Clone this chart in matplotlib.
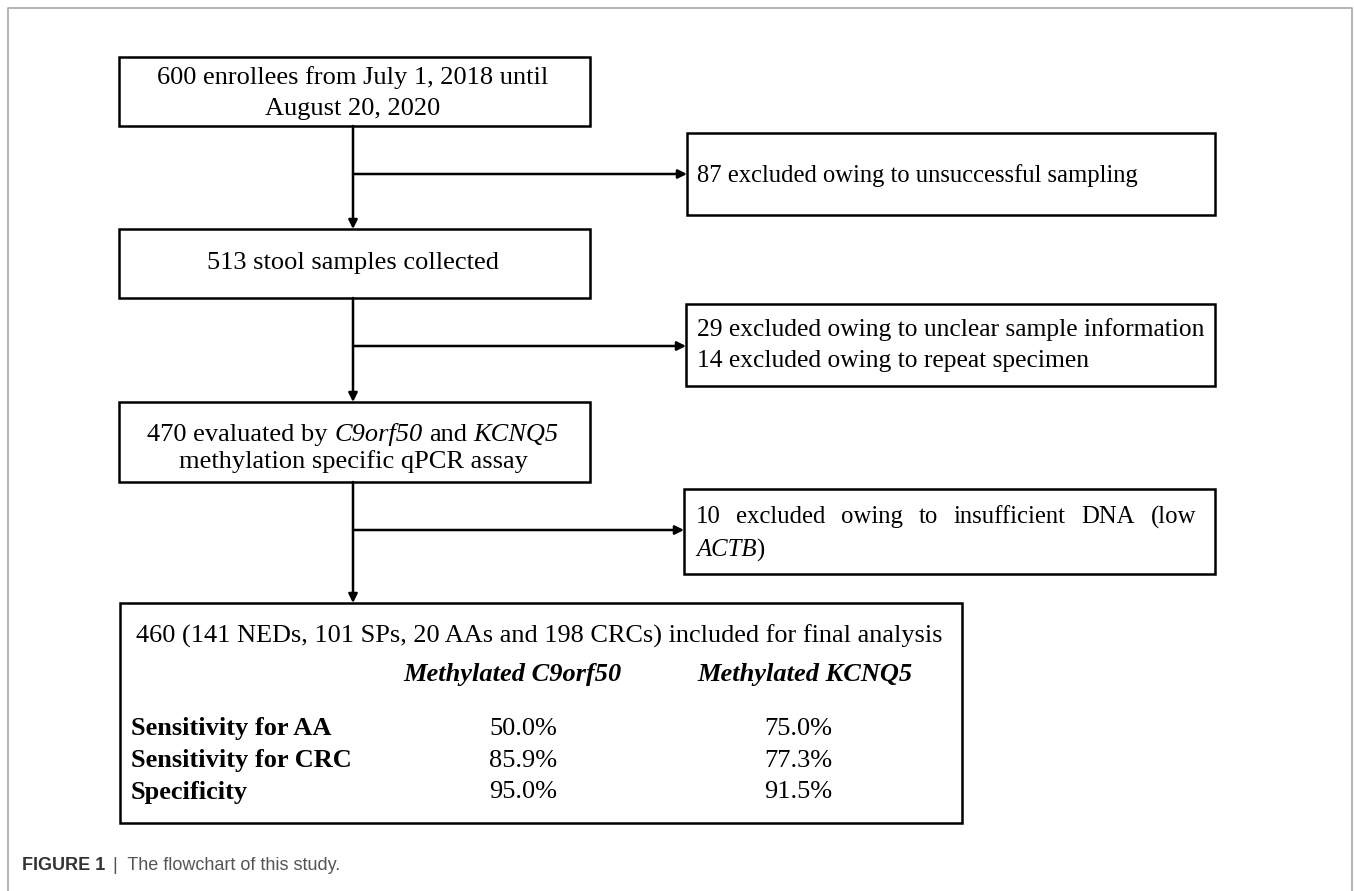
import matplotlib
matplotlib.use("Agg")
import matplotlib.pyplot as plt
from matplotlib.patches import Rectangle

plt.rcParams['font.family'] = ['Liberation Serif', 'DejaVu Serif']

# ---- content ----
box1_lines = ["600 enrollees from July 1, 2018 until", "August 20, 2020"]
box2_lines = ["513 stool samples collected"]
# mixed style line: (text, italic)
box3_line1 = [("470 evaluated by", False), ("C9orf50", True), ("and", False), ("KCNQ5", True)]
box3_line2 = "methylation specific qPCR assay"
excl1_lines = ["87 excluded owing to unsuccessful sampling"]
excl2_lines = ["29 excluded owing to unclear sample information",
               "14 excluded owing to repeat specimen"]
excl3_line1 = "10 excluded owing to insufficient DNA (low"
excl3_line2 = [("ACTB", True), (")", False)]
final_title = "460 (141 NEDs, 101 SPs, 20 AAs and 198 CRCs) included for final analysis"
markers = ["Methylated C9orf50", "Methylated KCNQ5"]
metrics = ["Sensitivity for AA", "Sensitivity for CRC", "Specificity"]
c9orf50_values = [50.0, 85.9, 95.0]
kcnq5_values = [75.0, 77.3, 91.5]

W, H = 1354, 891
fig = plt.figure(figsize=(W / 100, H / 100), dpi=100)
ax = fig.add_axes([0, 0, 1, 1])
ax.set_xlim(0, W)
ax.set_ylim(H, 0)
ax.axis('off')
fig.canvas.draw()
renderer = fig.canvas.get_renderer()

FS = 19
LW = 1.8

# outer frame
ax.plot([8, 8, 1352, 1352], [H, 8, 8, H], color='#a8a8a8', lw=1.2)


def box(x0, y0, x1, y1):
    ax.add_patch(Rectangle((x0, y0), x1 - x0, y1 - y0, fill=False,
                           edgecolor='black', lw=LW))


def arrow(x0, y0, x1, y1):
    ax.annotate('', xy=(x1, y1), xytext=(x0, y0),
                arrowprops=dict(arrowstyle='-|>', color='black', lw=LW,
                                mutation_scale=13, shrinkA=0, shrinkB=0))


def width_of(s, fs, italic=False):
    t = ax.text(0, 0, s, fontsize=fs, fontstyle='italic' if italic else 'normal')
    w = t.get_window_extent(renderer).width
    t.remove()
    return w


def mixed(segments, x, y, fs, align='center', sep=True):
    space = width_of("x x", fs) - width_of("xx", fs)
    ws = [width_of(s, fs, it) for s, it in segments]
    total = sum(ws) + (space * (len(ws) - 1) if sep else 0)
    xs = x - total / 2 if align == 'center' else x
    for (s, it), w in zip(segments, ws):
        ax.text(xs, y, s, ha='left', va='center', fontsize=fs,
                fontstyle='italic' if it else 'normal')
        xs += w + (space if sep else 0)


# boxes
main_boxes = [(119, 57, 590, 126), (119, 229, 590, 298), (119, 402, 590, 482)]
excl_boxes = [(687, 133, 1215, 215), (686, 304, 1215, 386), (684, 489, 1215, 574)]
final_box = (120, 603, 962, 823)
cx = 353

for b in main_boxes + excl_boxes + [final_box]:
    box(*b)

# vertical arrows
arrow(cx, 126, cx, 229)
arrow(cx, 298, cx, 402)
arrow(cx, 482, cx, 603)
# branches
arrow(cx, 174, 687, 174)
arrow(cx, 346, 686, 346)
arrow(cx, 530, 684, 530)

# main box texts
for t, y in zip(box1_lines, [78, 109]):
    ax.text(cx, y, t, ha='center', va='center', fontsize=FS)
ax.text(cx, 263, box2_lines[0], ha='center', va='center', fontsize=FS)
mixed(box3_line1, cx, 435, FS)
ax.text(cx, 462, box3_line2, ha='center', va='center', fontsize=FS)

# exclusion texts
ax.text(697, 176, excl1_lines[0], ha='left', va='center', fontsize=17.7)
for t, y in zip(excl2_lines, [330, 361]):
    ax.text(697, y, t, ha='left', va='center', fontsize=18.4)

# justified first line of third exclusion box
FS6 = 17.8
words = excl3_line1.split()
x_left, x_right = 696, 1196
ws = [width_of(w, FS6) for w in words]
gap = (x_right - x_left - sum(ws)) / (len(words) - 1)
x = x_left
for w, wd in zip(words, ws):
    ax.text(x, 517, w, ha='left', va='center', fontsize=FS6)
    x += wd + gap
mixed(excl3_line2, x_left, 550, FS6, align='left', sep=False)

# final box
ax.text(136, 636, final_title, ha='left', va='center', fontsize=18.9)
col_x = [512, 805]
for m, xc in zip(markers, col_x):
    ax.text(xc, 675, m, ha='center', va='center', fontsize=FS,
            fontweight='bold', fontstyle='italic')
row_y = [729, 761, 792]
val_x = [523, 798]
for lab, v1, v2, y in zip(metrics, c9orf50_values, kcnq5_values, row_y):
    ax.text(131, y, lab, ha='left', va='center', fontsize=FS, fontweight='bold')
    ax.text(val_x[0], y, f"{v1:.1f}%", ha='center', va='center', fontsize=FS)
    ax.text(val_x[1], y, f"{v2:.1f}%", ha='center', va='center', fontsize=FS)

# caption
cap1 = ax.text(22, 866, "FIGURE 1", ha='left', va='center', fontsize=13,
               fontweight='bold', color='#333333', family='Liberation Sans')
bb = cap1.get_window_extent(renderer)
ax.text(bb.x1 + 8, 866, "|  The flowchart of this study.", ha='left', va='center',
        fontsize=13, color='#555555', family='Liberation Sans')

fig.savefig('out.png', dpi=100, facecolor='white')
